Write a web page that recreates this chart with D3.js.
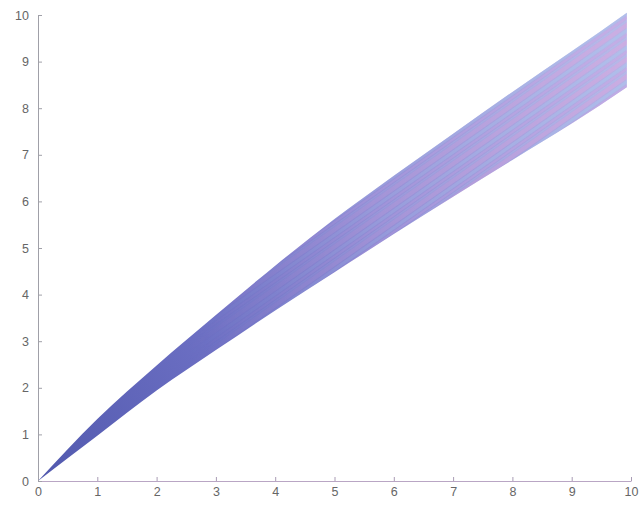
<!DOCTYPE html>
<html lang="en">
<head>
    <meta charset="UTF-8">
    <title>Band chart</title>
    <script src="https://d3js.org/d3.v7.min.js"></script>
    <style>
        body { margin: 0; background: white; }
        svg text { font-family: "Liberation Sans", Arial, sans-serif; }
    </style>
</head>
<body>
    <div id="chart"></div>
    <script>
        // values (x and the two edges of the band)
        const xValues = [0, 1, 2, 3, 4, 5, 6, 7, 8, 9, 9.93];
        const upperEdge = [0, 1.33, 2.48, 3.56, 4.62, 5.62, 6.55, 7.45, 8.35, 9.22, 10.05];
        const lowerEdge = [0, 0.97, 1.94, 2.81, 3.66, 4.48, 5.30, 6.10, 6.89, 7.67, 8.45];
        const xTicks = [0, 1, 2, 3, 4, 5, 6, 7, 8, 9, 10];
        const yTicks = [0, 1, 2, 3, 4, 5, 6, 7, 8, 9, 10];

        const width = 641, height = 505;
        const svg = d3.select("#chart").append("svg")
            .attr("width", width)
            .attr("height", height);

        const x = d3.scaleLinear().domain([0, 10]).range([38, 631]);
        const y = d3.scaleLinear().domain([0, 10]).range([481, 15]);

        const defs = svg.append("defs");

        // colour goes from dark blue at the origin to light lavender at the right
        const grad = defs.append("linearGradient")
            .attr("id", "bandGrad")
            .attr("gradientUnits", "userSpaceOnUse")
            .attr("x1", x(0)).attr("y1", y(0))
            .attr("x2", x(10)).attr("y2", y(9));
        grad.append("stop").attr("offset", "0").attr("stop-color", "#5159ae");
        grad.append("stop").attr("offset", "0.3").attr("stop-color", "#6c6fc3");
        grad.append("stop").attr("offset", "0.6").attr("stop-color", "#948fd6");
        grad.append("stop").attr("offset", "1").attr("stop-color", "#b9b3e6");

        // streaky pink / cyan texture
        const pat = defs.append("pattern")
            .attr("id", "streaks")
            .attr("patternUnits", "userSpaceOnUse")
            .attr("width", 60).attr("height", 14)
            .attr("patternTransform", "rotate(-35)");
        pat.append("rect").attr("x", 0).attr("y", 0).attr("width", 60).attr("height", 4)
            .attr("fill", "#e2a8de");
        pat.append("rect").attr("x", 0).attr("y", 5).attr("width", 60).attr("height", 3)
            .attr("fill", "#a6cdf0");
        pat.append("rect").attr("x", 0).attr("y", 9).attr("width", 60).attr("height", 2)
            .attr("fill", "#d2a6e6");
        pat.append("rect").attr("x", 0).attr("y", 12).attr("width", 60).attr("height", 1.5)
            .attr("fill", "#b2c3ee");

        const fade = defs.append("linearGradient")
            .attr("id", "fadeGrad")
            .attr("gradientUnits", "userSpaceOnUse")
            .attr("x1", x(2.5)).attr("y1", 0)
            .attr("x2", x(10)).attr("y2", 0);
        fade.append("stop").attr("offset", "0").attr("stop-color", "white").attr("stop-opacity", 0);
        fade.append("stop").attr("offset", "1").attr("stop-color", "white").attr("stop-opacity", 0.45);
        const mask = defs.append("mask").attr("id", "fadeMask");
        mask.append("rect").attr("x", 0).attr("y", 0).attr("width", width).attr("height", height)
            .attr("fill", "url(#fadeGrad)");

        const band = xValues.map((d, i) => ({ x: d, hi: upperEdge[i], lo: lowerEdge[i] }));

        const area = d3.area()
            .x(d => x(d.x))
            .y0(d => y(d.lo))
            .y1(d => y(d.hi))
            .curve(d3.curveMonotoneX);

        svg.append("path")
            .datum(band)
            .attr("d", area)
            .attr("fill", "url(#bandGrad)");

        svg.append("path")
            .datum(band)
            .attr("d", area)
            .attr("fill", "url(#streaks)")
            .attr("mask", "url(#fadeMask)");

        // axes, ticks pointing inwards
        const xAxis = d3.axisBottom(x).tickValues(xTicks).tickSizeInner(-4).tickSizeOuter(0).tickPadding(6);
        const yAxis = d3.axisLeft(y).tickValues(yTicks).tickSizeInner(-4).tickSizeOuter(0).tickPadding(9);

        const gx = svg.append("g").attr("transform", `translate(0,${y(0)})`).call(xAxis);
        const gy = svg.append("g").attr("transform", `translate(${x(0)},0)`).call(yAxis);

        gx.select(".domain").attr("stroke", "#b9a6c4");
        gx.selectAll(".tick line").attr("stroke", "#a99cb4");
        gy.select(".domain").attr("stroke", "#a0a0a8");
        gy.selectAll(".tick line").attr("stroke", "#a0a0a8");
        [gx, gy].forEach(g => g.selectAll(".tick text")
            .attr("fill", "#666")
            .style("font-size", "12.5px"));
    </script>
</body>
</html>
